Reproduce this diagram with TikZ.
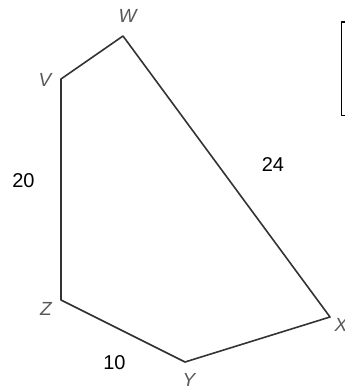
\documentclass[tikz,border=0pt]{standalone}
\usepackage{fontspec}
\setmainfont{Liberation Sans}
\usetikzlibrary{positioning}

\begin{document}
\begin{tikzpicture}[x=1pt, y=-1pt, line join=round,
      side/.style={draw=black!80, line width=1.6pt},
      vtx/.style={text=black!65, font=\fontsize{19}{19}\selectfont\itshape, inner sep=0pt},
      len/.style={font=\fontsize{20}{20}\selectfont, inner sep=0pt}]
    \useasboundingbox (0,0) rectangle (345,392);

    \coordinate (V) at (61,79);
    \coordinate (W) at (123,36);
    \coordinate (X) at (330,317);
    \coordinate (Y) at (185,362);
    \coordinate (Z) at (61,300);

    \node[vtx] (lV) at (45,79.5) {V};
    \node[vtx] (lW) at (127.5,15.5) {W};
    \node[vtx] (lX) at (341,325) {X};
    \node[vtx] (lY) at (189,380) {Y};
    \node[vtx] (lZ) at (46,308.5) {Z};

    \draw[side] (V) -- (W) -- (X) -- (Y) -- (Z) -- cycle;

    \node[len] (s20) at (23.5,181) {20};
    \node[len] (s24) at (273,164.5) {24};
    \node[len] (s10) at (114.5,363) {10};

    \coordinate (boxNW) at (341.5,22);
    \coordinate (boxSE) at (380,115.5);
    \draw[line width=1.8pt] (boxNW) rectangle (boxSE);
  \end{tikzpicture}
\end{document}
